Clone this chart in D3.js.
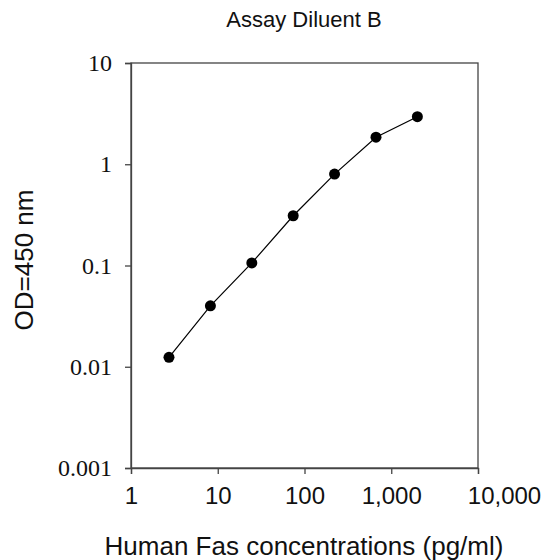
<!DOCTYPE html>
<html>
<head>
<meta charset="utf-8">
<script src="https://cdn.jsdelivr.net/npm/d3@7"></script>
<style>
  body { margin: 0; background: #fff; }
</style>
</head>
<body>
<div id="plot"></div>
<script>
// standard curve data, 3-fold dilutions
const concentrations = [2.74, 8.23, 24.7, 74.1, 222, 667, 2000];
const odValues = [0.0124, 0.040, 0.106, 0.31, 0.80, 1.85, 2.95];
const xTicks = [1, 10, 100, 1000, 10000];
const yTicks = [0.001, 0.01, 0.1, 1, 10];

const margin = { top: 63, right: 69, bottom: 92, left: 131 };
const width = 547 - margin.left - margin.right;
const height = 560 - margin.top - margin.bottom;

const svg = d3.select("#plot")
    .append("svg")
    .attr("width", 547)
    .attr("height", 560);

const g = svg.append("g")
    .attr("transform", "translate(" + margin.left + "," + margin.top + ")");

const x = d3.scaleLog().domain([1, 10000]).range([0, width]);
const y = d3.scaleLog().domain([0.001, 10]).range([height, 0]);

// plot frame
g.append("rect")
    .attr("width", width)
    .attr("height", height)
    .attr("fill", "none")
    .attr("stroke", "#444")
    .attr("stroke-width", 1.3);

// axes
const xAxis = g.append("g")
    .attr("transform", "translate(0," + height + ")")
    .call(d3.axisBottom(x).tickValues(xTicks).tickSize(6).tickPadding(13)
        .tickFormat(d3.format(",")));
xAxis.selectAll("text")
    .style("font-family", "Liberation Sans, Arial, sans-serif")
    .style("font-size", "24px")
    .attr("fill", "#111");
// last label sits to the right of its tick in the original
xAxis.selectAll(".tick text").filter(d => d === 10000).attr("dx", 26);

const yAxis = g.append("g")
    .call(d3.axisLeft(y).tickValues(yTicks).tickSize(6).tickPadding(13)
        .tickFormat(d => d >= 1 ? d3.format("d")(d) : String(d)));
yAxis.selectAll("text")
    .style("font-family", "Liberation Serif, Times New Roman, serif")
    .style("font-size", "24px")
    .attr("fill", "#111");

[xAxis, yAxis].forEach(a => {
    a.select(".domain").attr("stroke", "#444").attr("stroke-width", 1.3);
    a.selectAll(".tick line").attr("stroke", "#444").attr("stroke-width", 1.3);
});

const pts = concentrations.map((c, i) => ({ c: c, od: odValues[i] }));

// connecting line
g.append("path")
    .datum(pts)
    .attr("fill", "none")
    .attr("stroke", "#000")
    .attr("stroke-width", 1.2)
    .attr("d", d3.line().x(d => x(d.c)).y(d => y(d.od)));

// points
g.selectAll("circle")
    .data(pts)
    .enter().append("circle")
    .attr("cx", d => x(d.c))
    .attr("cy", d => y(d.od))
    .attr("r", 5.5)
    .attr("fill", "#000");

// labels
svg.append("text")
    .attr("x", 304)
    .attr("y", 27)
    .attr("text-anchor", "middle")
    .style("font-family", "Liberation Sans, Arial, sans-serif")
    .style("font-size", "22px")
    .attr("fill", "#111")
    .text("Assay Diluent B");

svg.append("text")
    .attr("x", 304)
    .attr("y", 555)
    .attr("text-anchor", "middle")
    .style("font-family", "Liberation Sans, Arial, sans-serif")
    .style("font-size", "26px")
    .attr("fill", "#111")
    .text("Human Fas concentrations (pg/ml)");

svg.append("text")
    .attr("transform", "translate(33,260) rotate(-90)")
    .attr("text-anchor", "middle")
    .style("font-family", "Liberation Sans, Arial, sans-serif")
    .style("font-size", "26px")
    .attr("fill", "#111")
    .text("OD=450 nm");
</script>
</body>
</html>
